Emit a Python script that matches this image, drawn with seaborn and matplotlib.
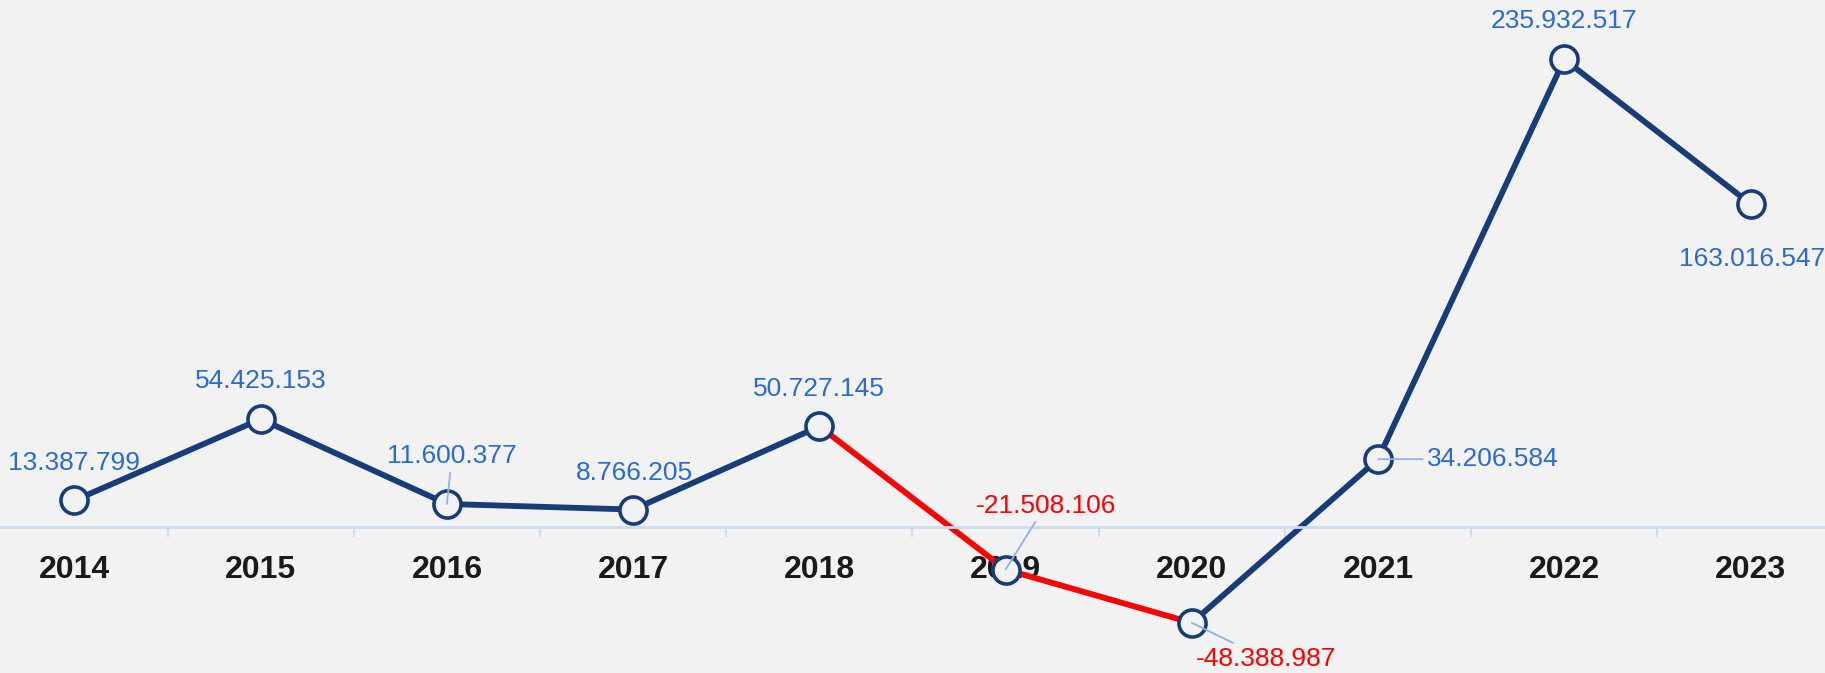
import numpy as np
import pandas as pd
import matplotlib
matplotlib.use("Agg")
import matplotlib.pyplot as plt
import seaborn as sns

# ─── Data ───────────────────────────────────────────────────────────────────
years = ["2014", "2015", "2016", "2017", "2018", "2019", "2020", "2021", "2022", "2023"]
values = [13387799, 54425153, 11600377, 8766205, 50727145,
          -21508106, -48388987, 34206584, 235932517, 163016547]
value_labels = ["13.387.799", "54.425.153", "11.600.377", "8.766.205", "50.727.145",
                "-21.508.106", "-48.388.987", "34.206.584", "235.932.517", "163.016.547"]

# label offsets in pixels (dx, dy) and whether a leader line is drawn
label_offsets = [(0, 37), (0, 38), (5, 48), (1, 37), (0, 37),
                 (40, 64), (74, -36), (115, 0), (0, 38), (2, -55)]
leaders = [False, False, True, False, False, True, True, True, False, False]

NAVY = "#173c7a"
RED = "#ff0000"
LABEL_BLUE = "#2a6ad4"
AXIS_BLUE = "#c9dbf5"
LEADER = "#8fb2ea"
BG = "#f2f2f2"

sns.set_style("white")
plt.rcParams["font.family"] = ["Liberation Sans", "DejaVu Sans"]

# ─── Segments, coloured by the sign of the end point ───────────────────────
rows = []
for i in range(len(values) - 1):
    trend = "neg" if values[i + 1] < 0 else "pos"
    rows.append({"x": i, "y": values[i], "seg": i, "trend": trend})
    rows.append({"x": i + 1, "y": values[i + 1], "seg": i, "trend": trend})
seg_df = pd.DataFrame(rows)
pts_df = pd.DataFrame({"x": np.arange(len(values)), "y": values})

fig = plt.figure(figsize=(18.25, 6.73), dpi=100, facecolor=BG)
ax = fig.add_axes([0, 0, 1, 1])
ax.set_facecolor(BG)

sns.lineplot(data=seg_df, x="x", y="y", hue="trend", units="seg", estimator=None,
             palette={"pos": NAVY, "neg": RED}, linewidth=4.2, legend=False,
             ax=ax, zorder=2)
sns.scatterplot(data=pts_df, x="x", y="y", s=380, color=BG, edgecolor=NAVY,
                linewidth=2.6, ax=ax, zorder=3, legend=False)

for i, (v, txt) in enumerate(zip(values, value_labels)):
    dx, dy = label_offsets[i]
    col = RED if v < 0 else LABEL_BLUE
    arrow = dict(arrowstyle="-", color=LEADER, lw=1.3, shrinkA=1, shrinkB=0) if leaders[i] else None
    ax.annotate(txt, xy=(i, v), xytext=(dx, dy), textcoords="offset pixels",
                ha="center", va="center", fontsize=19, color=col,
                arrowprops=arrow, zorder=4)

# ─── Axes ───────────────────────────────────────────────────────────────────
ax.set_xlim(-0.4, 9.4)
ax.set_ylim(-73.7e6, 265.9e6)
for s in ["top", "right", "left"]:
    ax.spines[s].set_visible(False)
ax.spines["bottom"].set_position(("data", 0))
ax.spines["bottom"].set_color(AXIS_BLUE)
ax.spines["bottom"].set_linewidth(2)
ax.set_yticks([])
ax.set_xticks(np.arange(len(years)))
ax.set_xticklabels(years, fontsize=23, fontweight="bold", color="#1a1a1a")
ax.set_xticks(np.arange(len(years) - 1) + 0.5, minor=True)
ax.tick_params(axis="x", which="major", bottom=False, length=0, pad=20)
ax.tick_params(axis="x", which="minor", bottom=True, direction="out",
               length=7, width=1.5, color=AXIS_BLUE)
ax.set_xlabel("")
ax.set_ylabel("")

plt.savefig("out.png", dpi=100, facecolor=BG)
plt.close()
